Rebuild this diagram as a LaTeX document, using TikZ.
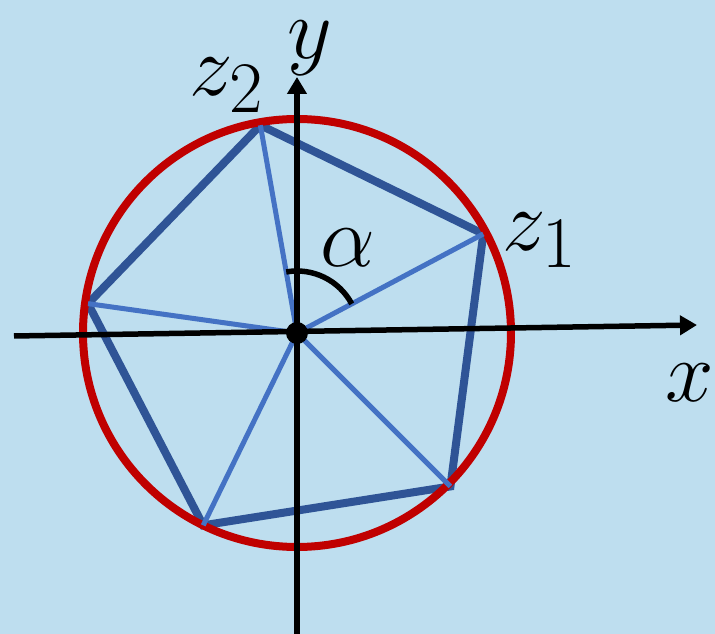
\documentclass[tikz,border=0pt]{standalone}
\usepackage{amsmath}
\usetikzlibrary{arrows.meta}

\definecolor{bgblue}{RGB}{190,222,239}
\definecolor{circred}{RGB}{192,0,0}
\definecolor{edgeblue}{RGB}{47,84,150}
\definecolor{spokeblue}{RGB}{68,114,196}

\tikzset{
  axis/.style={line width=5.5pt,-{Triangle[length=17pt,width=19pt]}},
  circ/.style={circred,line width=8pt},
  edge/.style={edgeblue,line width=8pt,line join=miter},
  spoke/.style={spokeblue,line width=5pt},
  anglearc/.style={line width=5.5pt},
  lbl/.style={font=\Huge,scale=3.5,inner sep=0pt}
}

\begin{document}
\begin{tikzpicture}[x=1pt,y=1pt]

% Background
\fill[bgblue] (-297,-301) rectangle (418,333);
\useasboundingbox (-297,-301) rectangle (418,333);

\coordinate (o) at (0,0);

% Pentagon vertices
\foreach \a/\r/\n in {28/211/1,100/211/2,172/211/3,244/214/4,315/217/5} {
\coordinate (p\n) at (\a:\r);
}

% Pentagon
\draw[edge] (p1) -- (p2) -- (p3) -- (p4) -- (p5) -- cycle;

% Circle
\draw[circ] (o) circle (214);

% Spokes
\foreach \n in {1,...,5} {
\draw[spoke] (o) -- (p\n);
}

% Axes
\coordinate (xs) at (-283,-3);
\coordinate (xe) at (400,8);
\coordinate (ys) at (0,-301);
\coordinate (ye) at (0,256);
\draw[axis] (xs) -- (xe);
\draw[axis] (ys) -- (ye);

% Angle
\draw[anglearc] (100:62) arc[start angle=100,end angle=28,radius=62];
\fill (o) circle (11);

\node[lbl] (lblx) at (393,-50) {$x$};
\node[lbl] (lbly) at (13,285) {$y$};
\node[lbl] (lblzone) at (243,93) {$z_1$};
\node[lbl] (lblztwo) at (-70,248) {$z_2$};
\node[lbl] (lblalpha) at (51,85) {$\alpha$};

\end{tikzpicture}
\end{document}
